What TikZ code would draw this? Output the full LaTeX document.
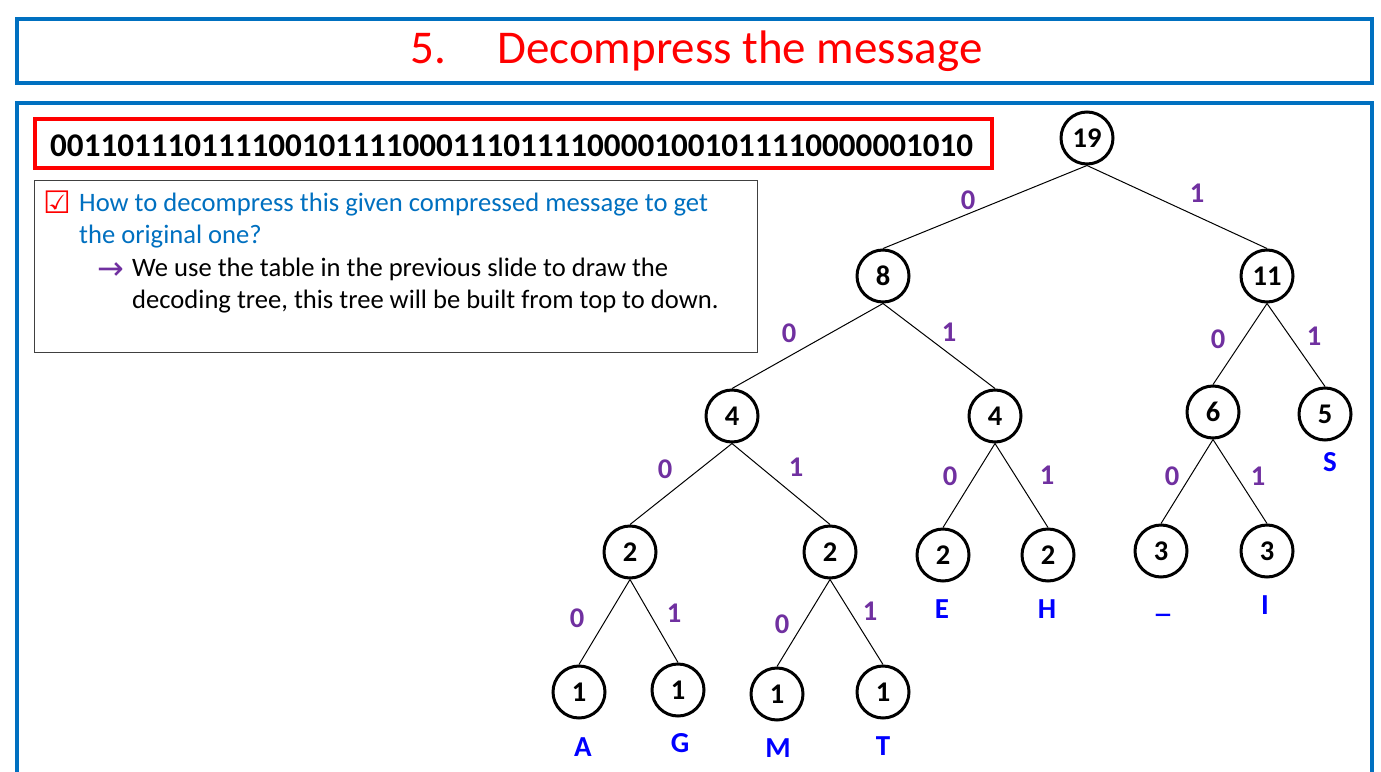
\documentclass[tikz,border=0pt]{standalone}
\usepackage{fontspec}
\setmainfont{Carlito}
\newfontfamily\djv{DejaVu Sans}
\definecolor{frameblue}{HTML}{0070C0}
\definecolor{qblue}{HTML}{0070C0}
\definecolor{lblpurple}{HTML}{7030A0}
\definecolor{symblue}{HTML}{0000FF}
\definecolor{titlered}{HTML}{FF0000}
\begin{document}
\begin{tikzpicture}[x=1pt,y=-1pt,
  frame/.style={draw=frameblue,line width=4.5pt},
  tnode/.style={circle,draw,line width=3pt,minimum size=52pt,inner sep=0pt,font=\fontsize{28.5}{32}\selectfont\bfseries},
  lbl/.style={text=lblpurple,inner sep=0pt,font=\fontsize{28.5}{32}\selectfont\bfseries},
  sym/.style={text=symblue,inner sep=0pt,font=\fontsize{29}{34}\selectfont\bfseries},
  edge/.style={line width=1pt},
  txt/.style={anchor=base west,inner sep=0pt,font=\fontsize{26.6}{32}\selectfont}
]
\useasboundingbox (0,0) rectangle (1381,771);
\fill[white] (0,0) rectangle (1381,771);
% frames
\draw[frame] (17,19) rectangle (1372,83);
\draw[frame] (17,780) -- (17,103) -- (1372,103) -- (1372,780);
% title
\node[anchor=base west,inner sep=0pt,text=titlered,font=\fontsize{47}{56}\selectfont] (t5) at (410,63) {5.};
\node[anchor=base west,inner sep=0pt,text=titlered,font=\fontsize{47}{56}\selectfont] (title) at (497,63) {Decompress the message};
% bit string
\draw[draw=titlered,line width=4pt] (35,119) rectangle (991.5,168);
\node[anchor=base west,inner sep=0pt,font=\fontsize{33.1}{40}\selectfont\bfseries] (bits) at (50,156) {0011011101111001011110001110111100001001011110000001010};
% text box
\draw[draw=black!75,line width=1pt] (34,180) rectangle (757,352);
\node[inner sep=0pt,text=titlered,font=\djv\fontsize{31}{34}\selectfont] (chk) at (57,202) {☑};
\node[txt,text=qblue] (q1) at (79,211) {How to decompress this given compressed message to get};
\node[txt,text=qblue] (q2) at (79,243) {the original one?};
\node[inner sep=0pt,text=lblpurple,font=\djv\fontsize{32}{34}\selectfont] (arr) at (111,271) {→};
\node[txt] (a1) at (132,276) {We use the table in the previous slide to draw the};
\node[txt] (a2) at (132,308) {decoding tree, this tree will be built from top to down.};
% tree nodes
\node[tnode] (n19) at (1087,138) {19};
\node[tnode] (n8) at (883,276) {8};
\node[tnode] (n11) at (1267,276) {11};
\node[tnode] (n4a) at (732,416) {4};
\node[tnode] (n4b) at (995,416) {4};
\node[tnode] (n6) at (1213,412) {6};
\node[tnode] (n5) at (1325,414) {5};
\node[tnode] (n2a) at (630,552) {2};
\node[tnode] (n2b) at (830,552) {2};
\node[tnode] (n2c) at (943,555) {2};
\node[tnode] (n2d) at (1048,555) {2};
\node[tnode] (n3a) at (1161,551) {3};
\node[tnode] (n3b) at (1267,551) {3};
\node[tnode] (n1a) at (579,692) {1};
\node[tnode] (n1b) at (678,690) {1};
\node[tnode] (n1c) at (777,694) {1};
\node[tnode] (n1d) at (883,692) {1};
% edges
\foreach \p/\c in {n19/n8,n19/n11,n8/n4a,n8/n4b,n11/n6,n11/n5,n4a/n2a,n4a/n2b,n4b/n2c,n4b/n2d,n6/n3a,n6/n3b,n2a/n1a,n2a/n1b,n2b/n1c,n2b/n1d}
  \draw[edge] (\p.south) -- (\c.north);
% edge labels
\node[lbl] (l1) at (968,200) {0};
\node[lbl] (l2) at (1197,193) {1};
\node[lbl] (l3) at (789,333) {0};
\node[lbl] (l4) at (949,332) {1};
\node[lbl] (l5) at (1218,339) {0};
\node[lbl] (l6) at (1314,336) {1};
\node[lbl] (l7) at (665,469) {0};
\node[lbl] (l8) at (796,467) {1};
\node[lbl] (l9) at (950,476) {0};
\node[lbl] (l10) at (1047,475) {1};
\node[lbl] (l11) at (1172,476) {0};
\node[lbl] (l12) at (1258,476) {1};
\node[lbl] (l13) at (577,618) {0};
\node[lbl] (l14) at (674,613) {1};
\node[lbl] (l15) at (782,624) {0};
\node[lbl] (l16) at (870,611) {1};
% symbols
\node[sym] (sA) at (583,747) {A};
\node[sym] (sG) at (680,743) {G};
\node[sym] (sM) at (778,748) {M};
\node[sym] (sT) at (883,746) {T};
\node[sym] (sE) at (942,609) {E};
\node[sym] (sH) at (1047,609) {H};
\node[sym,anchor=base] (sU) at (1163,612) {\_};
\node[sym] (sI) at (1265,605) {I};
\node[sym] (sS) at (1330,462) {S};
\end{tikzpicture}
\end{document}
